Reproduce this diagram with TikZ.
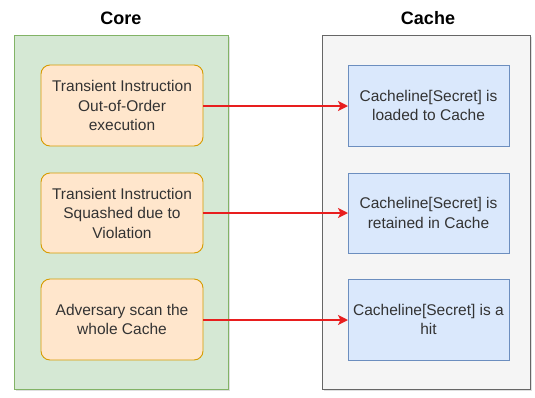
\documentclass[tikz,border=0pt]{standalone}
\usepackage{fontspec}
\setmainfont{Liberation Sans}
\usetikzlibrary{arrows.meta,shadows,calc}
\definecolor{gfill}{HTML}{D5E8D4}
\definecolor{gline}{HTML}{82B366}
\definecolor{ofill}{HTML}{FFE6CC}
\definecolor{oline}{HTML}{D79B00}
\definecolor{bfill}{HTML}{DAE8FC}
\definecolor{bline}{HTML}{6C8EBF}
\definecolor{kfill}{HTML}{F5F5F5}
\definecolor{kline}{HTML}{666666}
\definecolor{txt}{HTML}{333333}
\definecolor{arr}{HTML}{E81E1E}
\begin{document}
\begin{tikzpicture}[x=1pt,y=-1pt,
  every node/.style={inner sep=0pt,outer sep=0pt},
  panel/.style={draw=#1, line width=0.9pt, drop shadow={shadow xshift=2pt,shadow yshift=-2pt,opacity=0.25}},
  orbox/.style={draw=oline, fill=ofill, rounded corners=9pt, line width=0.9pt},
  blbox/.style={draw=bline, fill=bfill, line width=0.9pt},
  lbl/.style={text=txt, font=\fontsize{15.5}{19.5}\selectfont, align=center},
  title/.style={font=\bfseries\fontsize{18}{20}\selectfont, text=black},
  link/.style={draw=arr, line width=2pt, -{Stealth[length=10pt,width=10pt,inset=2.5pt]}}
]
\useasboundingbox (0,0) rectangle (535,397);
% panels
\path[panel=gline, fill=gfill] (14,35) rectangle (228,389);
\path[panel=kline, fill=kfill] (322,35) rectangle (530,389);
\node[title] (tcore) at (121,18) {Core};
\node[title] (tcache) at (428,18) {Cache};
% left boxes
\draw[orbox] (41,65) rectangle (203,146);
\draw[orbox] (41,173) rectangle (203,253);
\draw[orbox] (41,279) rectangle (203,360);
\node[lbl] (a1) at (122,105.5) {Transient Instruction\\Out-of-Order\\execution};
\node[lbl] (a2) at (122,213) {Transient Instruction\\Squashed due to\\Violation};
\node[lbl] (a3) at (122,319.5) {Adversary scan the\\whole Cache};
\coordinate (a1r) at (203,106);
\coordinate (a2r) at (203,213);
\coordinate (a3r) at (203,320);
% right boxes
\draw[blbox] (348,65) rectangle (509,146);
\draw[blbox] (348,173) rectangle (509,253);
\draw[blbox] (348,279) rectangle (509,360);
\node[lbl] (b1) at (428.5,105.5) {Cacheline[Secret] is\\loaded to Cache};
\node[lbl] (b2) at (428.5,213) {Cacheline[Secret] is\\retained in Cache};
\node[lbl] (b3) at (428.5,319.5) {Cacheline[Secret] is a\\hit};
\coordinate (b1l) at (348,106);
\coordinate (b2l) at (348,213);
\coordinate (b3l) at (348,320);
% arrows
\draw[link] (a1r) -- (b1l);
\draw[link] (a2r) -- (b2l);
\draw[link] (a3r) -- (b3l);
\end{tikzpicture}
\end{document}
